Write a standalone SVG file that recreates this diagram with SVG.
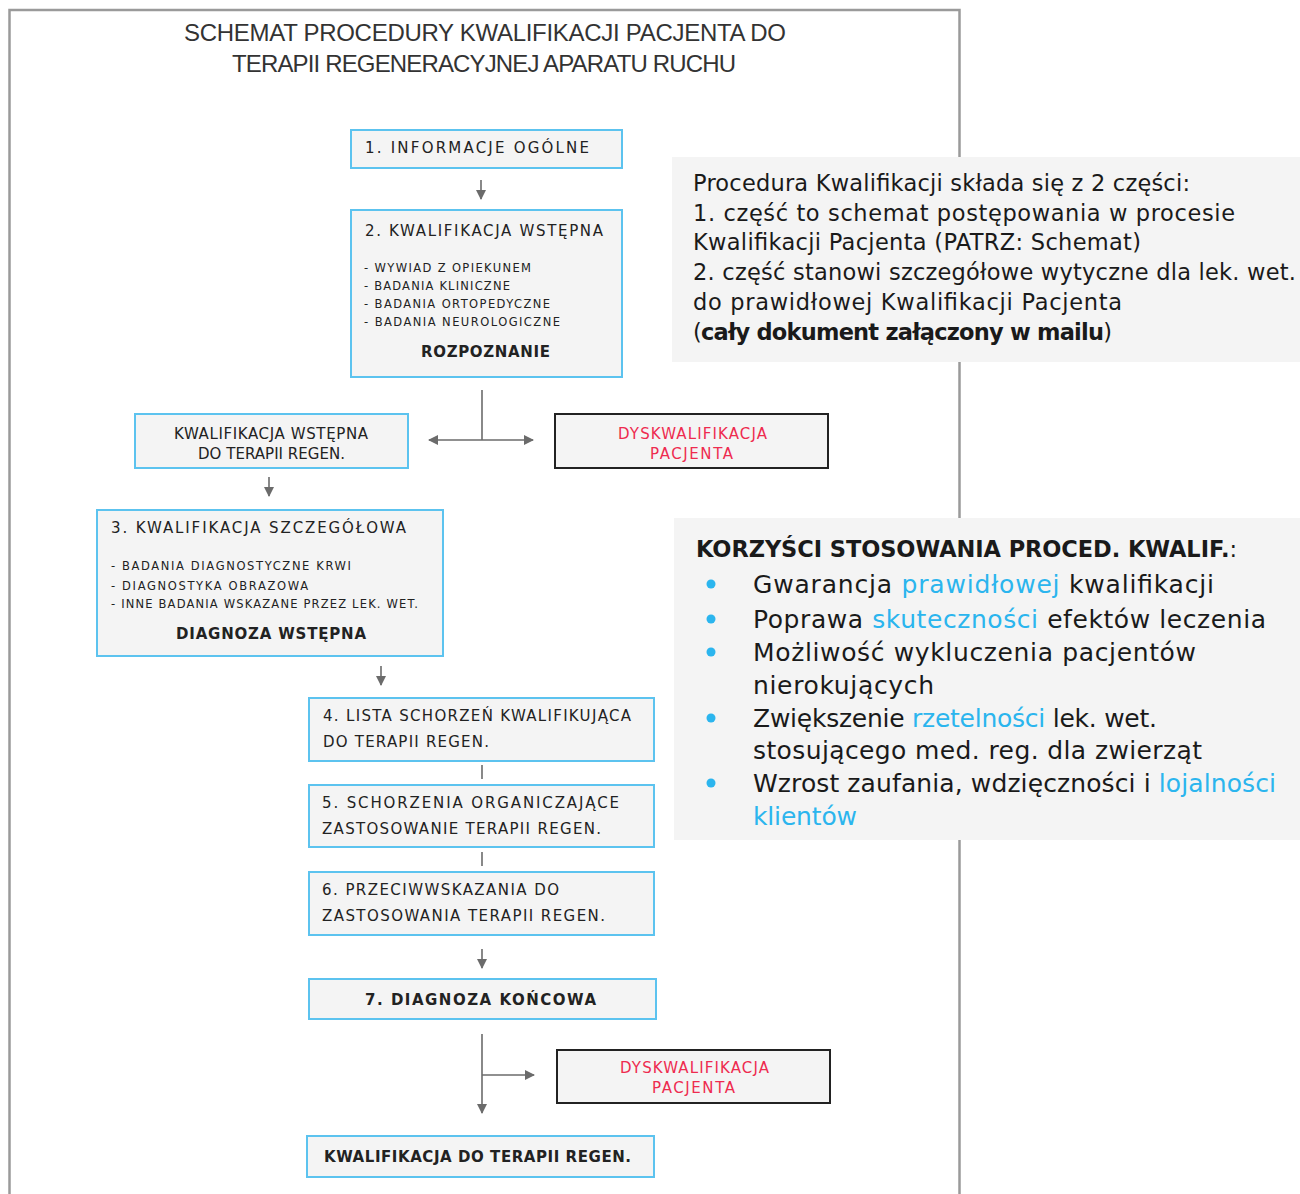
<svg xmlns="http://www.w3.org/2000/svg" width="1300" height="1194" viewBox="0 0 1300 1194">
<defs>
<marker id="ah" viewBox="0 0 10 10" refX="9" refY="5" markerWidth="10" markerHeight="10" markerUnits="userSpaceOnUse" orient="auto-start-reverse">
<path d="M0,0 L10,5 L0,10 z" fill="#6b6b6b"/>
</marker>
<style>
.frame{fill:#fff;stroke:#9a9a9a;stroke-width:2.5}
.box{fill:#f4f4f4;stroke:#5cc3ef;stroke-width:2}
.dbox{fill:#f4f4f4;stroke:#222;stroke-width:2}
.panel{fill:#f4f4f4}
.t{font-family:"DejaVu Sans",sans-serif;fill:#222}
.s{font-size:15px}
.xs{font-size:11.5px}
.b{font-weight:bold}
.red{fill:#ee2b4f}
.title{font-family:"Liberation Sans Narrow","Liberation Sans",sans-serif;font-size:24px;fill:#333}
.p{font-family:"DejaVu Sans",sans-serif;font-size:22.5px;fill:#1a1a1a}
.q{font-family:"DejaVu Sans",sans-serif;font-size:25px;fill:#1a1a1a}
.hl{fill:#2bb5ee}
.con{stroke:#6b6b6b;stroke-width:1.6;fill:none}
</style>
</defs>
<rect width="1300" height="1194" fill="#fff"/>
<rect class="frame" x="9.5" y="10" width="950" height="1200"/>
<g id="title">
<text class="title" x="485" y="41" text-anchor="middle" textLength="602">SCHEMAT PROCEDURY  KWALIFIKACJI PACJENTA DO</text>
<text class="title" x="484" y="72" text-anchor="middle" textLength="504">TERAPII REGENERACYJNEJ  APARATU RUCHU</text>
</g>
<g id="connectors">
<line class="con" x1="481" y1="180" x2="481" y2="199" marker-end="url(#ah)"/>
<line class="con" x1="482" y1="390" x2="482" y2="440"/>
<line class="con" x1="429" y1="440" x2="533" y2="440" marker-start="url(#ah)" marker-end="url(#ah)"/>
<line class="con" x1="269" y1="477" x2="269" y2="496" marker-end="url(#ah)"/>
<line class="con" x1="381" y1="666" x2="381" y2="685" marker-end="url(#ah)"/>
<line class="con" x1="482" y1="765" x2="482" y2="779"/>
<line class="con" x1="482" y1="852" x2="482" y2="866"/>
<line class="con" x1="482" y1="949" x2="482" y2="968" marker-end="url(#ah)"/>
<line class="con" x1="482" y1="1034" x2="482" y2="1113" marker-end="url(#ah)"/>
<line class="con" x1="482" y1="1075" x2="534" y2="1075" marker-end="url(#ah)"/>
</g>
<g id="n1">
<rect class="box" x="351" y="130" width="271" height="38"/>
<text class="t s" x="365" y="153" textLength="224">1. INFORMACJE  OGÓLNE</text>
</g>
<g id="n2">
<rect class="box" x="351" y="210" width="271" height="167"/>
<text class="t s" x="365" y="236" textLength="238">2. KWALIFIKACJA  WSTĘPNA</text>
<text class="t xs" x="364" y="272" textLength="167">- WYWIAD Z OPIEKUNEM</text>
<text class="t xs" x="364" y="290" textLength="146">- BADANIA  KLINICZNE</text>
<text class="t xs" x="364" y="308" textLength="186">- BADANIA  ORTOPEDYCZNE</text>
<text class="t xs" x="364" y="326" textLength="196">- BADANIA  NEUROLOGICZNE</text>
<text class="t s b" x="421" y="357" textLength="129">ROZPOZNANIE</text>
</g>
<g id="n2a">
<rect class="box" x="135" y="414" width="273" height="54"/>
<text class="t s" x="174" y="439" textLength="194">KWALIFIKACJA WSTĘPNA</text>
<text class="t s" x="198" y="459" textLength="147">DO TERAPII  REGEN.</text>
</g>
<g id="d1">
<rect class="dbox" x="555" y="414" width="273" height="54"/>
<text class="t s red" x="618" y="439" textLength="149">DYSKWALIFIKACJA</text>
<text class="t s red" x="650" y="459" textLength="83">PACJENTA</text>
</g>
<g id="n3">
<rect class="box" x="97" y="510" width="346" height="146"/>
<text class="t s" x="111" y="533" textLength="295">3. KWALIFIKACJA  SZCZEGÓŁOWA</text>
<text class="t xs" x="111" y="570" textLength="240">- BADANIA  DIAGNOSTYCZNE   KRWI</text>
<text class="t xs" x="111" y="590" textLength="197">- DIAGNOSTYKA   OBRAZOWA</text>
<text class="t xs" x="111" y="608" textLength="307">- INNE BADANIA  WSKAZANE  PRZEZ  LEK.  WET.</text>
<text class="t s b" x="176" y="639" textLength="190">DIAGNOZA WSTĘPNA</text>
</g>
<g id="n4">
<rect class="box" x="309" y="698" width="345" height="63"/>
<text class="t s" x="323" y="721" textLength="308">4. LISTA SCHORZEŃ  KWALIFIKUJĄCA</text>
<text class="t s" x="323" y="747" textLength="166">DO TERAPII REGEN.</text>
</g>
<g id="n5">
<rect class="box" x="309" y="785" width="345" height="62"/>
<text class="t s" x="322" y="808" textLength="297">5. SCHORZENIA  ORGANICZAJĄCE</text>
<text class="t s" x="322" y="834" textLength="279">ZASTOSOWANIE TERAPII REGEN.</text>
</g>
<g id="n6">
<rect class="box" x="309" y="872" width="345" height="63"/>
<text class="t s" x="322" y="895" textLength="237">6. PRZECIWWSKAZANIA  DO</text>
<text class="t s" x="322" y="921" textLength="283">ZASTOSOWANIA TERAPII REGEN.</text>
</g>
<g id="n7">
<rect class="box" x="309" y="979" width="347" height="40"/>
<text class="t s b" x="365" y="1005" textLength="231">7. DIAGNOZA KOŃCOWA</text>
</g>
<g id="d2">
<rect class="dbox" x="557" y="1050" width="273" height="53"/>
<text class="t s red" x="620" y="1073" textLength="149">DYSKWALIFIKACJA</text>
<text class="t s red" x="652" y="1093" textLength="83">PACJENTA</text>
</g>
<g id="n8">
<rect class="box" x="307" y="1136" width="347" height="41"/>
<text class="t s b" x="324" y="1162" textLength="307">KWALIFIKACJA DO TERAPII REGEN.</text>
</g>
<g id="info">
<rect class="panel" x="672" y="157" width="640" height="205"/>
<text class="p" x="693" y="191" textLength="497">Procedura Kwalifikacji składa się z 2 części:</text>
<text class="p" x="693" y="221" textLength="542">1. część to schemat postępowania w procesie</text>
<text class="p" x="693" y="250" textLength="448">Kwalifikacji Pacjenta (PATRZ: Schemat)</text>
<text class="p" x="693" y="280" textLength="603">2. część stanowi szczegółowe wytyczne dla lek. wet.</text>
<text class="p" x="693" y="310" textLength="429">do prawidłowej Kwalifikacji Pacjenta</text>
<text class="p" x="693" y="340" textLength="419">(<tspan font-weight="bold">cały dokument załączony w mailu</tspan>)</text>
</g>
<g id="benefits">
<rect class="panel" x="674" y="518" width="640" height="322"/>
<text class="p b" x="696" y="557" textLength="541">KORZYŚCI STOSOWANIA PROCED. KWALIF.<tspan font-weight="normal">:</tspan></text>
<g class="hl">
<circle cx="711" cy="584" r="4.5"/>
<circle cx="711" cy="619" r="4.5"/>
<circle cx="711" cy="652" r="4.5"/>
<circle cx="711" cy="718" r="4.5"/>
<circle cx="711" cy="783" r="4.5"/>
</g>
<text class="q" x="753" y="593" textLength="461">Gwarancja <tspan class="hl">prawidłowej</tspan> kwalifikacji</text>
<text class="q" x="753" y="628" textLength="513">Poprawa <tspan class="hl">skuteczności</tspan> efektów leczenia</text>
<text class="q" x="753" y="661" textLength="443">Możliwość wykluczenia pacjentów</text>
<text class="q" x="753" y="694" textLength="181">nierokujących</text>
<text class="q" x="753" y="727" textLength="404">Zwiększenie <tspan class="hl">rzetelności</tspan> lek. wet.</text>
<text class="q" x="753" y="759" textLength="449">stosującego med. reg. dla zwierząt</text>
<text class="q" x="753" y="792" textLength="523">Wzrost zaufania, wdzięczności i <tspan class="hl">lojalności</tspan></text>
<text class="q hl" x="753" y="825" textLength="104">klientów</text>
</g>
</svg>
